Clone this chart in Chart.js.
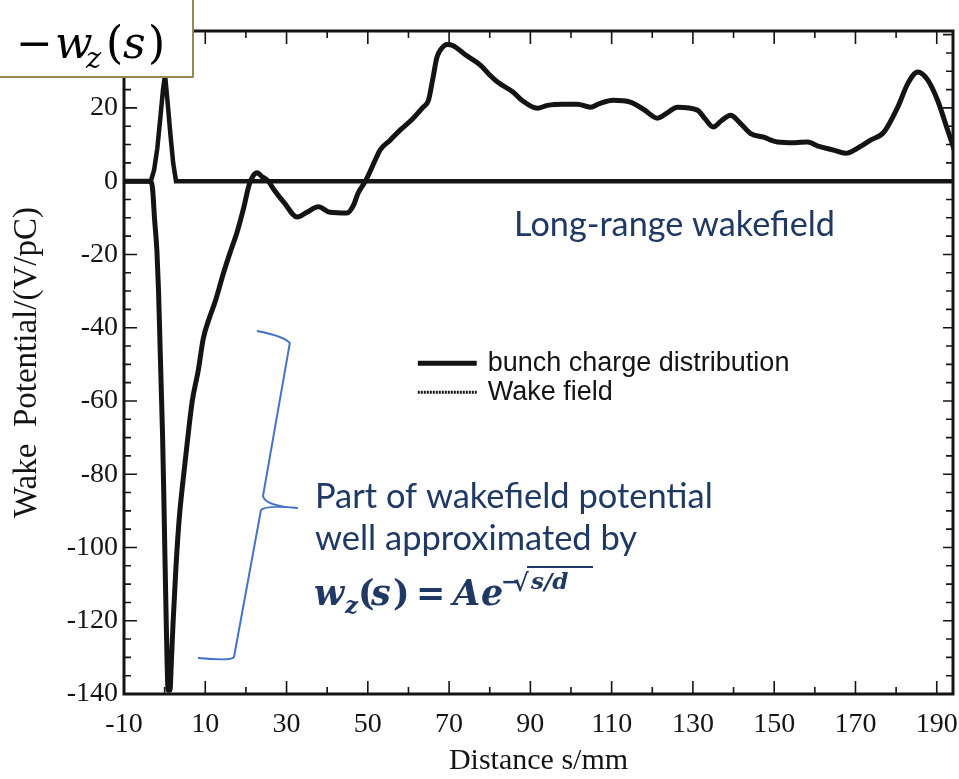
<!DOCTYPE html>
<html><head><meta charset="utf-8">
<script src="https://cdn.jsdelivr.net/npm/chart.js@4.4.1/dist/chart.umd.min.js"></script>
<style>html,body{margin:0;padding:0;background:#fff;}canvas{display:block}</style>
</head><body>
<canvas id="c" width="959" height="779"></canvas>
<script>
// ---------- data ----------
const seriesLabels = ['bunch charge distribution', 'Wake field'];
const bunchS = [-10, -3.4, -2.6, -1.8, -1.0, -0.4, 0.1, 0.7, 1.4, 2.1, 2.8, 194];
const bunchV = [0, 0, 3, 9, 18, 25, 29, 22, 13, 5, 0, 0];
const wakeS = [-10, -4, -3.2, -2.9, -2.5, -1.9, -1.5, -1.1, -0.8, -0.5, -0.2, 0.1, 0.35, 0.6, 0.85, 1.3, 1.7, 2.1, 2.8, 3.6, 4.5, 5.5, 6.8, 8.3, 9.5, 10.8, 12.4, 14.5, 16.1, 17.8, 19.4, 20.8, 21.8, 22.8, 24, 25.5, 27, 29.5, 32.6, 35, 37.8, 40.7, 44.9, 46.5, 47.6, 49.4, 51.8, 53, 55.5, 58, 61, 63.6, 64.9, 66, 67, 68, 69.5, 71, 74, 77.7, 80, 82, 85.8, 88, 91.7, 94.2, 98, 101.6, 104.8, 107, 110.4, 114.6, 118, 121.3, 123.5, 126.2, 131.1, 133, 135, 137, 139.3, 141.5, 144.2, 147.4, 150.8, 155, 158.2, 161, 164.6, 167.6, 170.5, 173.7, 177, 180.4, 182.9, 185.3, 187.8, 190.2, 192.7, 194.5];
const wakeV = [0, 0, -0.5, -3, -10, -19, -30, -46, -58, -70, -86, -104, -118, -131, -139, -139, -130, -120, -105, -92, -82, -72, -60, -51.5, -43, -38, -33, -25, -19.5, -14, -7.5, -1, 1.5, 2.3, 1.2, 0, -2.5, -6, -9.8, -8.5, -7, -8.5, -8.7, -6.5, -3.3, 0, 5.7, 8.5, 11.2, 14, 17, 20.2, 22, 28, 33.8, 36, 37.3, 37, 34.5, 31.7, 29, 27, 24.3, 22, 19.9, 20.7, 21, 21, 20.2, 21.2, 22.1, 21.6, 19.5, 17.2, 18.5, 20.2, 19.4, 17, 14.8, 16.5, 18, 16, 13, 12, 10.7, 10.5, 10.7, 9.5, 8.5, 7.6, 9, 11.2, 13.4, 20.2, 26.7, 29.8, 27.6, 22.1, 13.9, 8];

const xTickValues = [-10, 10, 30, 50, 70, 90, 110, 130, 150, 170, 190];
const xTickLabels = ['-10', '10', '30', '50', '70', '90', '110', '130', '150', '170', '190'];
const xMinorTicks = [0, 20, 40, 60, 80, 100, 120, 140, 160, 180];
const yTickValues = [-140, -120, -100, -80, -60, -40, -20, 0, 20, 40];
const yTickLabels = ['-140', '-120', '-100', '-80', '-60', '-40', '-20', '0', '20', '40'];
const yMinorTicks = [-135, -130, -125, -115, -110, -105, -95, -90, -85, -75, -70, -65, -55, -50, -45, -35, -30, -25, -15, -10, -5, 5, 10, 15, 25, 30, 35];

const xTitle = 'Distance s/mm';
const yTitle = 'Wake  Potential/(V/pC)';
const noteLong = 'Long-range wakefield';
const noteLines = ['Part of wakefield potential', 'well approximated by'];

// ---------- style ----------
const INK = '#141414';
const NAVY = '#1f3864';
const SERIF = "'Liberation Serif', 'Times New Roman', serif";

const toPts = (xs, ys) => xs.map((x, i) => ({x, y: ys[i]}));

const bgPlugin = {
  id: 'bg',
  beforeDraw(chart) {
    const c = chart.ctx; c.save(); c.fillStyle = '#fff';
    c.fillRect(0, 0, chart.width, chart.height); c.restore();
  }
};

const framePlugin = {
  id: 'frame',
  afterDatasetsDraw(chart) {
    const c = chart.ctx, a = chart.chartArea, xs = chart.scales.x, ys = chart.scales.y;
    c.save();
    c.strokeStyle = INK;
    c.lineWidth = 1.6;
    c.beginPath();
    const MAJ = 13, MIN = 7;
    xTickValues.forEach(v => { const p = xs.getPixelForValue(v);
      c.moveTo(p, a.bottom); c.lineTo(p, a.bottom - MAJ); c.moveTo(p, a.top); c.lineTo(p, a.top + MAJ); });
    xMinorTicks.forEach(v => { const p = xs.getPixelForValue(v);
      c.moveTo(p, a.bottom); c.lineTo(p, a.bottom - MIN); c.moveTo(p, a.top); c.lineTo(p, a.top + MIN); });
    yTickValues.forEach(v => { if (v > ys.max) return; const p = ys.getPixelForValue(v);
      c.moveTo(a.left, p); c.lineTo(a.left + MAJ, p); c.moveTo(a.right, p); c.lineTo(a.right - MAJ + 3, p); });
    yMinorTicks.forEach(v => { if (v > ys.max) return; const p = ys.getPixelForValue(v);
      c.moveTo(a.left, p); c.lineTo(a.left + MIN, p); c.moveTo(a.right, p); c.lineTo(a.right - MIN, p); });
    c.stroke();
    c.lineWidth = 3;
    c.strokeRect(a.left, a.top, a.right - a.left, a.bottom - a.top);
    c.restore();
  }
};

function fitSize(c, text, width, family, weight) {
  c.font = (weight || '') + ' 100px ' + family;
  return 100 * width / c.measureText(text).width;
}

const notesPlugin = {
  id: 'notes',
  afterDraw(chart) {
    const c = chart.ctx, xs = chart.scales.x, ys = chart.scales.y;
    const X = v => xs.getPixelForValue(v), Y = v => ys.getPixelForValue(v);
    c.save();

    // legend (inside plot)
    const ds = chart.data.datasets;
    const lx0 = X(62.3), lx1 = X(76.8), tx = X(79.5);
    const ly1 = Y(-49.7), ly2 = Y(-57.6);
    c.strokeStyle = INK;
    c.lineWidth = 5; c.setLineDash([]);
    c.beginPath(); c.moveTo(lx0, ly1); c.lineTo(lx1, ly1); c.stroke();
    c.lineWidth = 3; c.setLineDash([2, 1]);
    c.beginPath(); c.moveTo(lx0, ly2); c.lineTo(lx1, ly2); c.stroke();
    c.setLineDash([]);
    c.fillStyle = INK;
    c.font = "27px 'Liberation Sans', Arial, sans-serif";
    c.textBaseline = 'middle'; c.textAlign = 'left';
    c.fillText(ds[0].label, tx, ly1);
    c.fillText(ds[1].label, tx, ly2);

    // blue brace
    c.strokeStyle = '#4472c4'; c.lineWidth = 2; c.lineJoin = 'round';
    c.beginPath();
    c.moveTo(X(22.7), Y(-40.9));
    c.quadraticCurveTo(X(29.4), Y(-42.3), X(30.8), Y(-44.2));
    c.lineTo(X(24.2), Y(-86));
    c.quadraticCurveTo(X(24.9), Y(-88.7), X(32.6), Y(-89.2));
    c.quadraticCurveTo(X(24.7), Y(-88.4), X(23.7), Y(-89.8));
    c.lineTo(X(17.07), Y(-129.9));
    c.quadraticCurveTo(X(16.6), Y(-131), X(8.2), Y(-130.2));
    c.stroke();

    // navy notes
    c.fillStyle = NAVY; c.textBaseline = 'alphabetic';
    const FAM = "Lato, 'Open Sans', sans-serif";
    let s1 = fitSize(c, noteLong, 321, FAM);
    c.font = s1 + 'px ' + FAM;
    c.fillText(noteLong, X(86), Y(-15));
    let s2 = fitSize(c, noteLines[0], 398, FAM);
    c.font = s2 + 'px ' + FAM;
    const nx = X(37);
    c.fillText(noteLines[0], nx, Y(-89.2));
    c.fillText(noteLines[1], nx, Y(-100.6));

    // formula  w_z(s) = A e^{-sqrt(s/d)}
    const fb = Y(-115.7);
    const BI = "italic bold ", B = "bold ", FF = "'DejaVu Serif', serif";
    c.font = BI + '35px ' + FF; c.fillText('w', nx - 1, fb);
    c.font = BI + '23px ' + FF; c.fillText('z', nx + 30, fb + 8);
    c.font = B + '35px ' + FF; c.fillText('(', nx + 43, fb);
    c.font = BI + '35px ' + FF; c.fillText('s', nx + 56, fb);
    c.font = B + '35px ' + FF; c.fillText(')', nx + 78, fb);
    c.font = B + '35px ' + FF; c.fillText('=', nx + 101, fb);
    c.font = BI + '35px ' + FF; c.fillText('A', nx + 138, fb);
    c.font = BI + '35px ' + FF; c.fillText('e', nx + 166, fb);
    c.font = B + '22px ' + FF; c.fillText('\u2212', nx + 186, fb - 16);
    c.font = B + '24px ' + FF; c.fillText('\u221A', nx + 198, fb - 14);
    c.font = BI + '23px ' + FF; c.fillText('s/d', nx + 216, fb - 16);
    c.strokeStyle = NAVY; c.lineWidth = 2;
    c.beginPath(); c.moveTo(nx + 212, fb - 38); c.lineTo(nx + 278, fb - 38); c.stroke();

    // framed label top-left
    c.fillStyle = '#fff';
    c.fillRect(-3, -3, 196, 80);
    c.strokeStyle = '#948a54'; c.lineWidth = 2;
    c.strokeRect(-3, -3, 196, 80);
    c.fillStyle = '#000';
    c.font = "44px 'DejaVu Serif', serif"; c.fillText('\u2212', 16, 58);
    c.font = "italic 44px 'DejaVu Serif', serif"; c.fillText('w', 55, 58);
    c.font = "italic 29px 'DejaVu Serif', serif"; c.fillText('z', 86, 68);
    c.font = "44px 'DejaVu Serif', serif"; c.fillText('(', 106, 58);
    c.font = "italic 44px 'DejaVu Serif', serif"; c.fillText('s', 123, 58);
    c.font = "44px 'DejaVu Serif', serif"; c.fillText(')', 148, 58);

    c.restore();
  }
};

const noPad = s => { s.paddingLeft = 0; s.paddingRight = 0; s.paddingTop = 0; s.paddingBottom = 0; };

new Chart(document.getElementById('c'), {
  type: 'line',
  data: {
    datasets: [
      { label: seriesLabels[0], data: toPts(bunchS, bunchV), borderColor: INK, borderWidth: 4.5,
        pointRadius: 0, tension: 0, order: 2 },
      { label: seriesLabels[1], data: toPts(wakeS, wakeV), borderColor: INK, borderWidth: 5,
        pointRadius: 0, cubicInterpolationMode: 'monotone', order: 1 }
    ]
  },
  options: {
    responsive: false, animation: false, devicePixelRatio: 1,
    layout: { padding: { top: 31, right: 6, left: 0, bottom: 0 } },
    plugins: { legend: { display: false }, tooltip: { enabled: false }, title: { display: false } },
    scales: {
      x: {
        type: 'linear', min: -10, max: 194,
        afterBuildTicks: s => { s.ticks = xTickValues.map(v => ({ value: v })); },
        afterFit: s => { s.height = 85; noPad(s); },
        grid: { display: false, drawTicks: false }, border: { display: false },
        ticks: { autoSkip: false, maxRotation: 0, padding: 14, color: INK,
          font: { family: SERIF, size: 28 }, callback: (v, i) => xTickLabels[i] },
        title: { display: true, text: xTitle, color: INK, font: { family: SERIF, size: 30 },
          padding: { top: 0, bottom: 0 } }
      },
      y: {
        type: 'linear', min: -140, max: 41,
        afterBuildTicks: s => { s.ticks = yTickValues.filter(v => v <= 41).map(v => ({ value: v })); },
        afterFit: s => { s.width = 124; noPad(s); },
        grid: { display: false, drawTicks: false }, border: { display: false },
        ticks: { autoSkip: false, padding: 6, color: INK,
          font: { family: SERIF, size: 28 }, callback: (v, i) => yTickLabels[i] },
        title: { display: true, text: yTitle, color: INK, font: { family: SERIF, size: 33 },
          padding: { top: 8, bottom: 0 } }
      }
    }
  },
  plugins: [bgPlugin, framePlugin, notesPlugin]
});
</script>
</body></html>
